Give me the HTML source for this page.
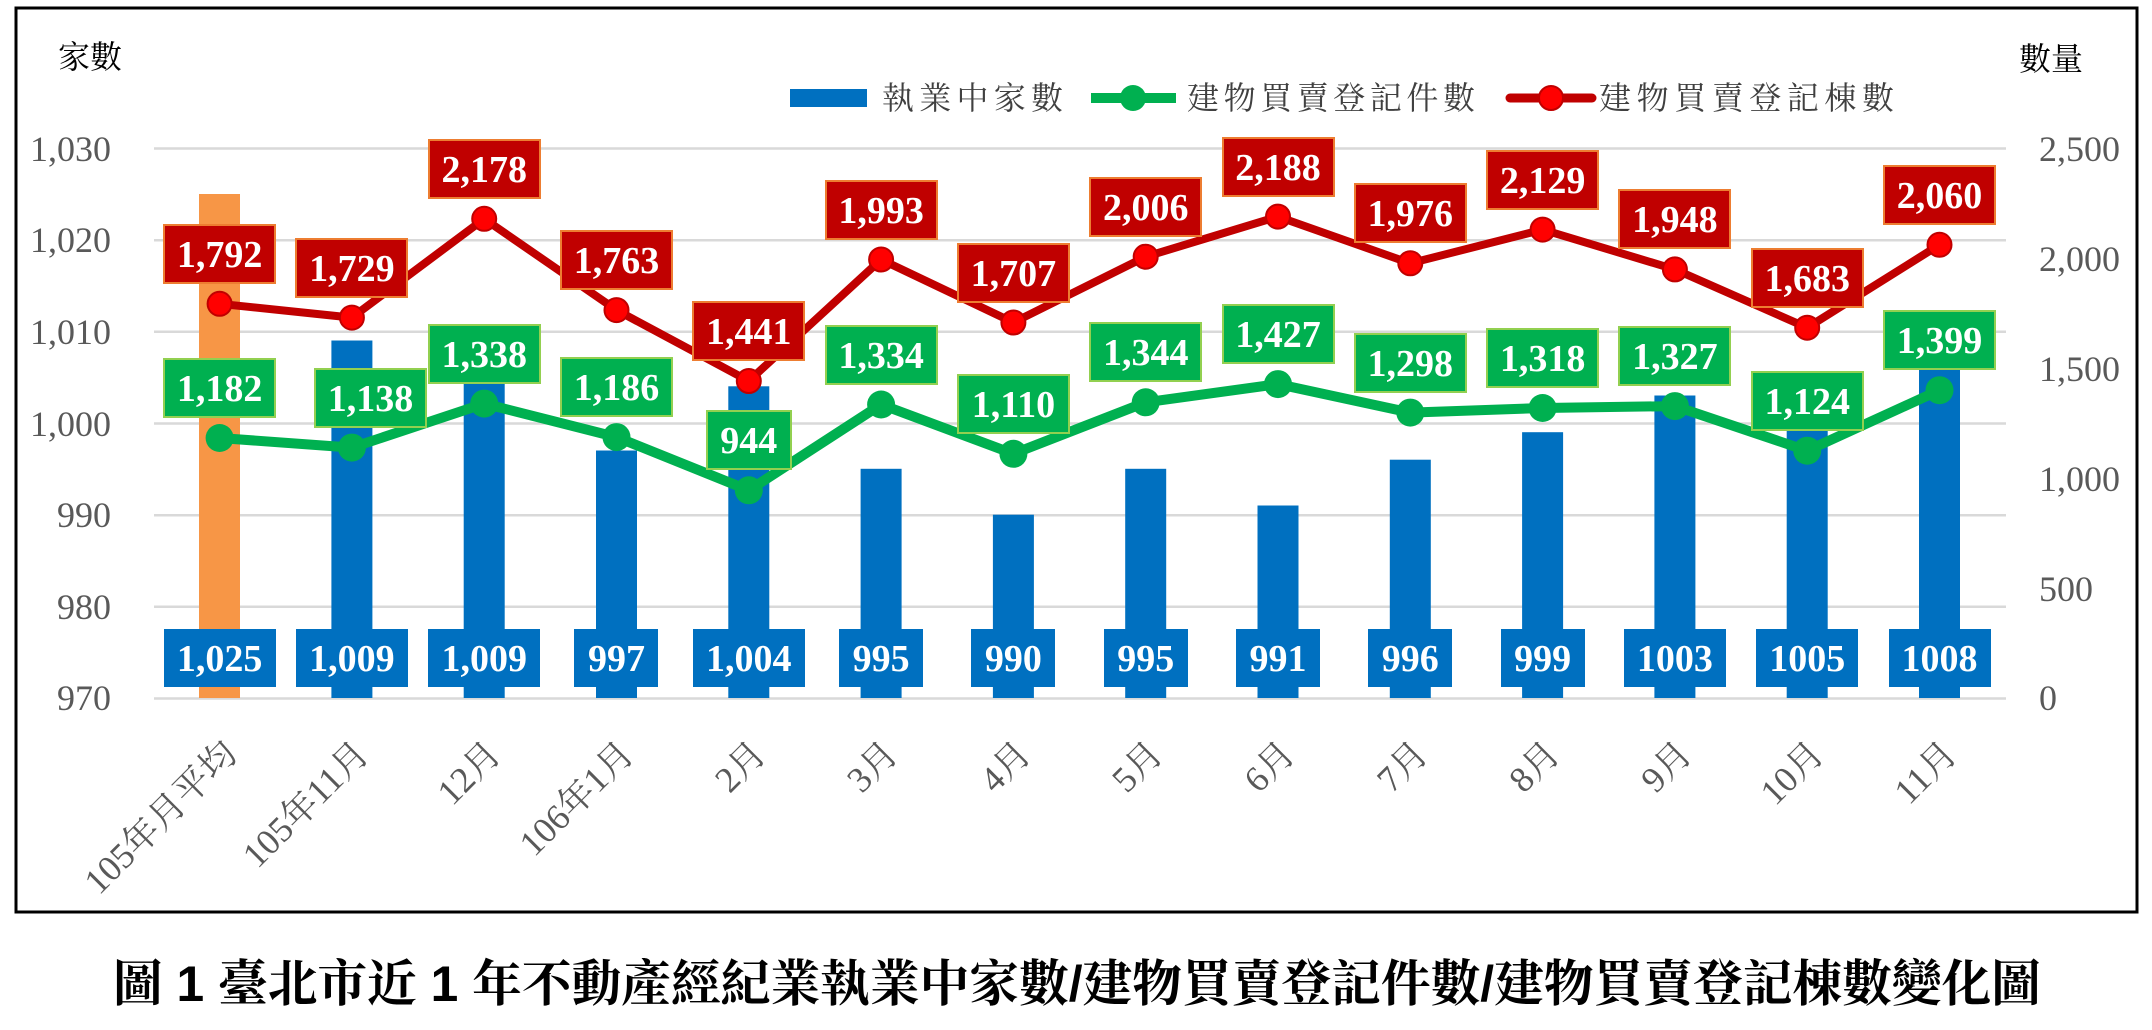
<!DOCTYPE html>
<html><head><meta charset="utf-8"><style>
html,body{margin:0;padding:0;background:#fff;}
svg{display:block;}
.tk{font-family:"Liberation Serif","Noto Serif CJK SC",serif;font-size:36px;fill:#595959;}
.xl{font-family:"Liberation Serif","Noto Serif CJK SC",serif;font-size:36px;fill:#595959;}
.lg{font-family:"Liberation Serif","Noto Serif CJK SC",serif;font-size:32px;fill:#404040;}
.dl{font-family:"Liberation Serif",serif;font-size:38px;font-weight:bold;fill:#fff;text-anchor:middle;}
.rb{fill:#c00000;stroke:#ed7d31;stroke-width:2;}
.gb{fill:#00b050;stroke:#92d050;stroke-width:2;}
.bb{fill:#0070c0;}
</style></head><body>
<svg width="2152" height="1030" viewBox="0 0 2152 1030" xmlns="http://www.w3.org/2000/svg">
<rect x="0" y="0" width="2152" height="1030" fill="#fff"/>
<rect x="16" y="8" width="2121" height="904" fill="none" stroke="#000" stroke-width="3"/>
<g stroke="#d9d9d9" stroke-width="2.5">
<line x1="154" y1="148.5" x2="2006" y2="148.5"/>
<line x1="154" y1="240.2" x2="2006" y2="240.2"/>
<line x1="154" y1="331.8" x2="2006" y2="331.8"/>
<line x1="154" y1="423.5" x2="2006" y2="423.5"/>
<line x1="154" y1="515.2" x2="2006" y2="515.2"/>
<line x1="154" y1="606.8" x2="2006" y2="606.8"/>
<line x1="154" y1="698.5" x2="2006" y2="698.5"/>
</g>
<g class="tk" text-anchor="end">
<text x="111" y="161">1,030</text><text x="111" y="252">1,020</text><text x="111" y="344">1,010</text>
<text x="111" y="436">1,000</text><text x="111" y="527">990</text><text x="111" y="619">980</text><text x="111" y="710">970</text>
</g>
<g class="tk" text-anchor="start">
<text x="2039" y="161">2,500</text><text x="2039" y="271">2,000</text><text x="2039" y="381">1,500</text>
<text x="2039" y="491">1,000</text><text x="2039" y="601">500</text><text x="2039" y="710">0</text>
</g>
<text x="58" y="68" font-family="'Liberation Serif','Noto Serif CJK SC',serif" font-size="32" fill="#000">家數</text>
<text x="2019" y="70" font-family="'Liberation Serif','Noto Serif CJK SC',serif" font-size="32" fill="#000">數量</text>
<rect x="790" y="89" width="77" height="18" fill="#0070c0"/>
<text class="lg" x="882" y="109" textLength="181" lengthAdjust="spacing">執業中家數</text>
<line x1="1091" y1="98" x2="1176" y2="98" stroke="#00b050" stroke-width="10"/>
<circle cx="1133" cy="98" r="13" fill="#00b050"/>
<text class="lg" x="1187" y="109" textLength="288" lengthAdjust="spacing">建物買賣登記件數</text>
<line x1="1510" y1="98" x2="1592" y2="98" stroke="#c00000" stroke-width="9" stroke-linecap="round"/>
<circle cx="1551" cy="98" r="12" fill="#ff0000" stroke="#c00000" stroke-width="2"/>
<text class="lg" x="1599" y="109" textLength="295" lengthAdjust="spacing">建物買賣登記棟數</text>
<rect x="199" y="194" width="41" height="504" fill="#f79646"/>
<g fill="#0070c0">
<rect x="331.4" y="340.5" width="41" height="357.5"/>
<rect x="463.7" y="340.5" width="41" height="357.5"/>
<rect x="596" y="450.5" width="41" height="247.5"/>
<rect x="728.3" y="386.3" width="41" height="311.7"/>
<rect x="860.6" y="468.8" width="41" height="229.2"/>
<rect x="992.9" y="514.7" width="41" height="183.3"/>
<rect x="1125.2" y="468.8" width="41" height="229.2"/>
<rect x="1257.5" y="505.5" width="41" height="192.5"/>
<rect x="1389.8" y="459.7" width="41" height="238.3"/>
<rect x="1522.1" y="432.2" width="41" height="265.8"/>
<rect x="1654.4" y="395.5" width="41" height="302.5"/>
<rect x="1786.7" y="377.2" width="41" height="320.8"/>
<rect x="1919" y="349.7" width="41" height="348.3"/>
</g>
<g>
<rect class="bb" x="164" y="629" width="112" height="58"/>
<rect class="bb" x="296" y="629" width="112" height="58"/>
<rect class="bb" x="428" y="629" width="112" height="58"/>
<rect class="bb" x="574" y="629" width="84" height="58"/>
<rect class="bb" x="693" y="629" width="112" height="58"/>
<rect class="bb" x="839" y="629" width="84" height="58"/>
<rect class="bb" x="971" y="629" width="84" height="58"/>
<rect class="bb" x="1104" y="629" width="84" height="58"/>
<rect class="bb" x="1236" y="629" width="84" height="58"/>
<rect class="bb" x="1368" y="629" width="84" height="58"/>
<rect class="bb" x="1501" y="629" width="84" height="58"/>
<rect class="bb" x="1624" y="629" width="102" height="58"/>
<rect class="bb" x="1756" y="629" width="102" height="58"/>
<rect class="bb" x="1889" y="629" width="102" height="58"/>
</g>
<g class="dl">
<text x="219.6" y="671">1,025</text><text x="351.9" y="671">1,009</text><text x="484.2" y="671">1,009</text>
<text x="616.5" y="671">997</text><text x="748.8" y="671">1,004</text><text x="881.1" y="671">995</text>
<text x="1013.4" y="671">990</text><text x="1145.7" y="671">995</text><text x="1278" y="671">991</text>
<text x="1410.3" y="671">996</text><text x="1542.6" y="671">999</text><text x="1674.9" y="671">1003</text>
<text x="1807.2" y="671">1005</text><text x="1939.5" y="671">1008</text>
</g>
<polyline fill="none" stroke="#00b050" stroke-width="10" stroke-linejoin="round" points="219.6,438 351.9,447.6 484.2,403.6 616.5,437.1 748.8,490.3 881.1,404.5 1013.4,453.8 1145.7,402.3 1278,384.1 1410.3,412.6 1542.6,408 1674.9,406.1 1807.2,450.7 1939.5,390.2"/>
<g fill="#00b050">
<circle cx="219.6" cy="438" r="14"/><circle cx="351.9" cy="447.6" r="14"/><circle cx="484.2" cy="403.6" r="14"/>
<circle cx="616.5" cy="437.1" r="14"/><circle cx="748.8" cy="490.3" r="14"/><circle cx="881.1" cy="404.5" r="14"/>
<circle cx="1013.4" cy="453.8" r="14"/><circle cx="1145.7" cy="402.3" r="14"/><circle cx="1278" cy="384.1" r="14"/>
<circle cx="1410.3" cy="412.6" r="14"/><circle cx="1542.6" cy="408" r="14"/><circle cx="1674.9" cy="406.1" r="14"/>
<circle cx="1807.2" cy="450.7" r="14"/><circle cx="1939.5" cy="390.2" r="14"/>
</g>
<polyline fill="none" stroke="#c00000" stroke-width="8" stroke-linejoin="round" points="219.6,303.8 351.9,317.6 484.2,218.8 616.5,310.1 748.8,381 881.1,259.5 1013.4,322.5 1145.7,256.7 1278,216.6 1410.3,263.3 1542.6,229.6 1674.9,269.4 1807.2,327.7 1939.5,244.8"/>
<g fill="#ff0000" stroke="#c00000" stroke-width="2">
<circle cx="219.6" cy="303.8" r="12"/><circle cx="351.9" cy="317.6" r="12"/><circle cx="484.2" cy="218.8" r="12"/>
<circle cx="616.5" cy="310.1" r="12"/><circle cx="748.8" cy="381" r="12"/><circle cx="881.1" cy="259.5" r="12"/>
<circle cx="1013.4" cy="322.5" r="12"/><circle cx="1145.7" cy="256.7" r="12"/><circle cx="1278" cy="216.6" r="12"/>
<circle cx="1410.3" cy="263.3" r="12"/><circle cx="1542.6" cy="229.6" r="12"/><circle cx="1674.9" cy="269.4" r="12"/>
<circle cx="1807.2" cy="327.7" r="12"/><circle cx="1939.5" cy="244.8" r="12"/>
</g>
<g>
<rect class="rb" x="164" y="225" width="111" height="58"/>
<rect class="rb" x="296" y="239" width="111" height="58"/>
<rect class="rb" x="429" y="140" width="111" height="58"/>
<rect class="rb" x="561" y="231" width="111" height="58"/>
<rect class="rb" x="693" y="302" width="111" height="58"/>
<rect class="rb" x="826" y="181" width="111" height="58"/>
<rect class="rb" x="958" y="244" width="111" height="58"/>
<rect class="rb" x="1090" y="178" width="111" height="58"/>
<rect class="rb" x="1223" y="138" width="111" height="58"/>
<rect class="rb" x="1355" y="184" width="111" height="58"/>
<rect class="rb" x="1487" y="151" width="111" height="58"/>
<rect class="rb" x="1619" y="190" width="111" height="58"/>
<rect class="rb" x="1752" y="249" width="111" height="58"/>
<rect class="rb" x="1884" y="166" width="111" height="58"/>
</g>
<g class="dl">
<text x="219.6" y="267">1,792</text><text x="351.9" y="281">1,729</text><text x="484.2" y="182">2,178</text>
<text x="616.5" y="273">1,763</text><text x="748.8" y="344">1,441</text><text x="881.1" y="223">1,993</text>
<text x="1013.4" y="286">1,707</text><text x="1145.7" y="220">2,006</text><text x="1278" y="180">2,188</text>
<text x="1410.3" y="226">1,976</text><text x="1542.6" y="193">2,129</text><text x="1674.9" y="232">1,948</text>
<text x="1807.2" y="291">1,683</text><text x="1939.5" y="208">2,060</text>
</g>
<g>
<rect class="gb" x="164" y="359" width="111" height="58"/>
<rect class="gb" x="315" y="369" width="111" height="58"/>
<rect class="gb" x="429" y="325" width="111" height="58"/>
<rect class="gb" x="561" y="358" width="111" height="58"/>
<rect class="gb" x="707" y="411" width="84" height="58"/>
<rect class="gb" x="826" y="326" width="111" height="58"/>
<rect class="gb" x="958" y="375" width="111" height="58"/>
<rect class="gb" x="1090" y="323" width="111" height="58"/>
<rect class="gb" x="1223" y="305" width="111" height="58"/>
<rect class="gb" x="1355" y="334" width="111" height="58"/>
<rect class="gb" x="1487" y="329" width="111" height="58"/>
<rect class="gb" x="1619" y="327" width="111" height="58"/>
<rect class="gb" x="1752" y="372" width="111" height="58"/>
<rect class="gb" x="1884" y="311" width="111" height="58"/>
</g>
<g class="dl">
<text x="219.6" y="401">1,182</text><text x="370.5" y="411">1,138</text><text x="484.2" y="367">1,338</text>
<text x="616.5" y="400">1,186</text><text x="748.8" y="453">944</text><text x="881.1" y="368">1,334</text>
<text x="1013.4" y="417">1,110</text><text x="1145.7" y="365">1,344</text><text x="1278" y="347">1,427</text>
<text x="1410.3" y="376">1,298</text><text x="1542.6" y="371">1,318</text><text x="1674.9" y="369">1,327</text>
<text x="1807.2" y="414">1,124</text><text x="1939.5" y="353">1,399</text>
</g>
<g class="xl" text-anchor="end">
<text transform="translate(239,756) rotate(-45)">105年月平均</text>
<text transform="translate(371,756) rotate(-45)">105年11月</text>
<text transform="translate(503,756) rotate(-45)">12月</text>
<text transform="translate(636,756) rotate(-45)">106年1月</text>
<text transform="translate(768,756) rotate(-45)">2月</text>
<text transform="translate(900,756) rotate(-45)">3月</text>
<text transform="translate(1033,756) rotate(-45)">4月</text>
<text transform="translate(1165,756) rotate(-45)">5月</text>
<text transform="translate(1297,756) rotate(-45)">6月</text>
<text transform="translate(1430,756) rotate(-45)">7月</text>
<text transform="translate(1562,756) rotate(-45)">8月</text>
<text transform="translate(1694,756) rotate(-45)">9月</text>
<text transform="translate(1826,756) rotate(-45)">10月</text>
<text transform="translate(1959,756) rotate(-45)">11月</text>
</g>
<text x="113" y="1001" textLength="1928" lengthAdjust="spacingAndGlyphs" font-family="'Liberation Sans','Noto Serif CJK SC','Noto Sans CJK TC',serif" font-weight="bold" font-size="50" fill="#000">圖 1 臺北市近 1 年不動產經紀業執業中家數/建物買賣登記件數/建物買賣登記棟數變化圖</text>
</svg>
</body></html>
